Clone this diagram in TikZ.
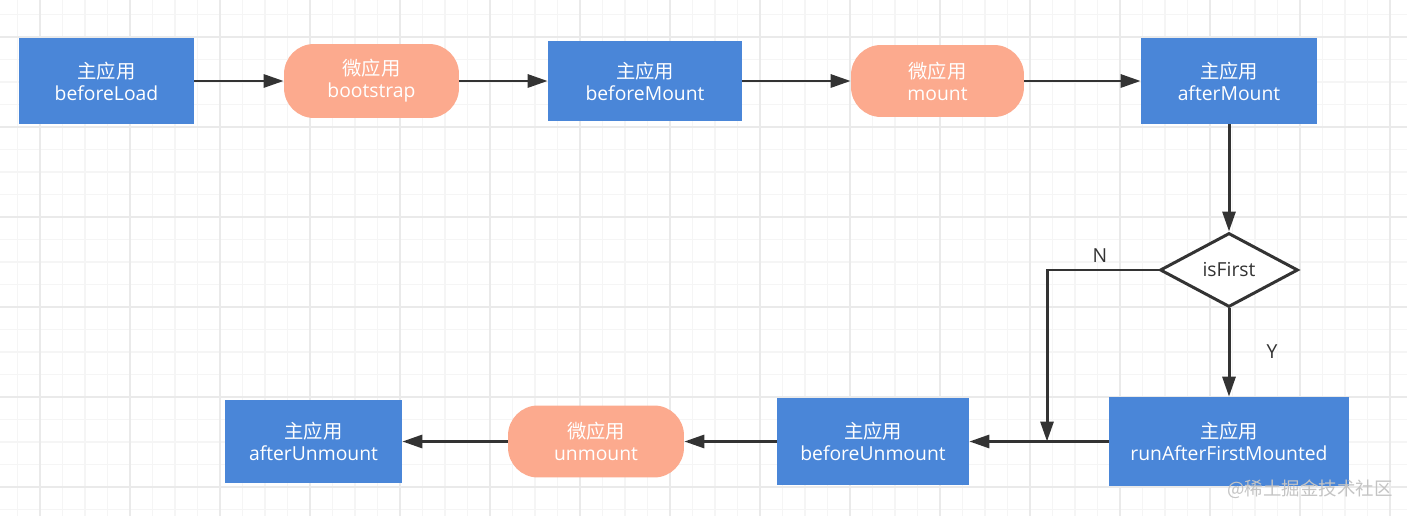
\documentclass[tikz,border=0pt]{standalone}
\usepackage{fontspec}
\setmainfont{Open Sans}
\newfontfamily\cjk{Noto Sans CJK SC}
\usetikzlibrary{positioning, arrows.meta, shapes.geometric}
\definecolor{MainBlue}{RGB}{74,134,216}
\definecolor{MicroOrange}{RGB}{252,170,142}
\definecolor{LineGray}{RGB}{51,51,51}
\definecolor{GridMinor}{RGB}{245,245,245}
\definecolor{GridMajor}{RGB}{234,234,234}
\definecolor{MarkGray}{RGB}{196,196,196}

\tikzset{
  mainapp/.style={rectangle, fill=MainBlue, text=white, align=center, inner sep=0pt,
    font=\fontsize{11}{12.5}\selectfont},
  microapp/.style={rectangle, rounded corners=0.6cm, fill=MicroOrange, text=white, align=center,
    inner sep=0pt, font=\fontsize{11}{12.5}\selectfont},
  check/.style={diamond, draw=LineGray, line width=1.7pt, fill=white, text=LineGray, inner sep=0pt,
    font=\fontsize{11}{12.5}\selectfont},
  flow/.style={-{Triangle[length=4mm,width=2.6mm]}, line width=1.7pt, draw=LineGray},
  branch/.style={text=LineGray, font=\fontsize{11}{12.5}\selectfont},
}

\begin{document}
\begin{tikzpicture}[x=0.02cm, y=-0.02cm]
  \useasboundingbox (0,0) rectangle (1407,516);
  \fill[white] (0,0) rectangle (1407,516);
  % background grid
  \foreach \gx in {17.5,40,...,1407} \draw[GridMinor, line width=0.6pt] (\gx,0) -- (\gx,516);
  \foreach \gy in {14.5,37,...,516} \draw[GridMinor, line width=0.6pt] (0,\gy) -- (1407,\gy);
  \foreach \gx in {40,130,...,1407} \draw[GridMajor, line width=0.8pt] (\gx,0) -- (\gx,516);
  \foreach \gy in {37,127,...,516} \draw[GridMajor, line width=0.8pt] (0,\gy) -- (1407,\gy);

  % first row
  \node[mainapp, minimum width=3.5cm, minimum height=1.74cm] (load) at (106.5,81) {{\cjk 主应用}\\beforeLoad};
  \node[microapp, minimum width=3.5cm, minimum height=1.48cm] (boot) at (371.5,81) {{\cjk 微应用}\\bootstrap};
  \node[mainapp, minimum width=3.88cm, minimum height=1.6cm] (bmount) at (645,81) {{\cjk 主应用}\\beforeMount};
  \node[microapp, minimum width=3.46cm, minimum height=1.44cm] (mount) at (937.5,81) {{\cjk 微应用}\\mount};
  \node[mainapp, minimum width=3.52cm, minimum height=1.72cm] (amount) at (1229,81) {{\cjk 主应用}\\afterMount};

  % decision
  \node[check, minimum width=2.76cm, minimum height=1.48cm] (first) at (1229,270) {isFirst};

  % last row
  \node[mainapp, minimum width=4.8cm, minimum height=1.78cm] (rafm) at (1229,441.5) {{\cjk 主应用}\\runAfterFirstMounted};
  \node[mainapp, minimum width=3.84cm, minimum height=1.74cm] (bunmount) at (873,441.5) {{\cjk 主应用}\\beforeUnmount};
  \node[microapp, minimum width=3.52cm, minimum height=1.44cm] (unmount) at (596,441.5) {{\cjk 微应用}\\unmount};
  \node[mainapp, minimum width=3.54cm, minimum height=1.68cm] (aunmount) at (313.5,441.5) {{\cjk 主应用}\\afterUnmount};

  \coordinate (nturn) at (1047,270);
  \coordinate (njoin) at (1047,441.5);

  \draw[flow] (load) -- (boot);
  \draw[flow] (boot) -- (bmount);
  \draw[flow] (bmount) -- (mount);
  \draw[flow] (mount) -- (amount);
  \draw[flow] (amount) -- (first);
  \draw[flow] (first) -- (rafm);
  \draw[flow] (first.west) -- (nturn) -- (njoin);
  \draw[flow] (rafm) -- (bunmount);
  \draw[flow] (bunmount) -- (unmount);
  \draw[flow] (unmount) -- (aunmount);

  \node[branch] (nlabel) at (1100,256) {N};
  \node[branch] (ylabel) at (1272,352) {Y};

  % watermark
  \node[text=MarkGray, font=\cjk\fontsize{10.5}{12}\selectfont] (mark) at (1310,489) {@稀土掘金技术社区};
\end{tikzpicture}
\end{document}
